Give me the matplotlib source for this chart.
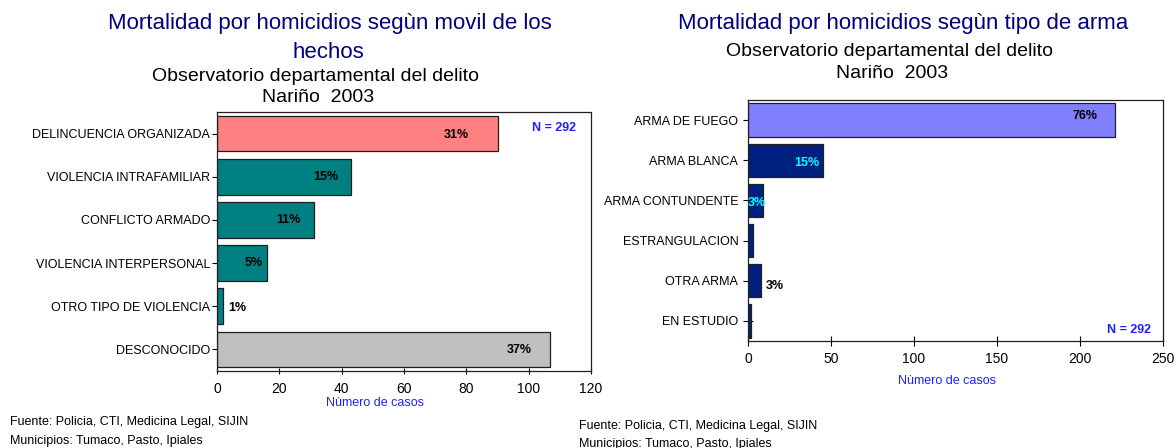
import matplotlib
matplotlib.use("Agg")
import matplotlib.pyplot as plt

plt.rcParams["font.family"] = ["Liberation Sans", "DejaVu Sans"]

W, H = 1176, 448  # output size in pixels (dpi 100)

# ---------------------------------------------------------------------------
# Data
# ---------------------------------------------------------------------------
motive_labels = ["DELINCUENCIA ORGANIZADA", "VIOLENCIA INTRAFAMILIAR",
                 "CONFLICTO ARMADO", "VIOLENCIA INTERPERSONAL",
                 "OTRO TIPO DE VIOLENCIA", "DESCONOCIDO"]
motive_cases = [90, 43, 31, 16, 2, 107]
motive_pct = ["31%", "15%", "11%", "5%", "1%", "37%"]

weapon_labels = ["ARMA DE FUEGO", "ARMA BLANCA", "ARMA CONTUNDENTE",
                 "ESTRANGULACION", "OTRA ARMA", "EN ESTUDIO"]
weapon_cases = [221, 45, 9, 3, 8, 2]
weapon_pct = ["76%", "15%", "3%", "", "3%", ""]

n_total = 292

# styles
motive_colors = ["#FF8080", "#008080", "#008080", "#008080", "#008080", "#C0C0C0"]
weapon_colors = ["#8080FF", "#00207F", "#00207F", "#00207F", "#00207F", "#00207F"]
motive_lbl_colors = ["black"] * 6
weapon_lbl_colors = ["black", "#00FFFF", "#00FFFF", "black", "black", "black"]
# offset of each percentage label from the bar end, in pixels (dy: down)
motive_lbl_dx = [-41, -25, -25, -13, 14, -31]
motive_lbl_dy = [1, 0, 0, 0, 2, 1]
weapon_lbl_dx = [-30, -16, -6, 0, 14, 0]
weapon_lbl_dy = [-4, 3, 3, 0, 5, 0]

TITLE_COLOR = "#000080"
BLUE = "#2020FF"


def px(x):
    return x / W


def py(y):
    return 1 - y / H


def bar_panel(ax, labels, cases, colors, pct, lbl_colors, lbl_dx, lbl_dy,
              xmax, step, ylab_pad, xtick_len, xtick_pad):
    pos = list(range(len(labels)))
    ax.barh(pos, cases, height=0.83, color=colors, edgecolor="#202020",
            linewidth=0.9, zorder=2)
    ax.set_ylim(len(labels) - 0.5, -0.5)
    ax.set_xlim(0, xmax)
    ax.set_xticks(range(0, xmax + 1, step))
    ax.set_yticks(pos)
    ax.set_yticklabels(labels, fontsize=9)
    ax.tick_params(axis="y", direction="inout", length=7, width=0.8,
                   pad=ylab_pad)
    ax.tick_params(axis="x", direction="inout", length=xtick_len, width=0.8,
                   labelsize=10, pad=xtick_pad)
    for sp in ax.spines.values():
        sp.set_linewidth(0.9)
        sp.set_color("#202020")
    for i, (v, t) in enumerate(zip(cases, pct)):
        if not t:
            continue
        ax.annotate(t, (v, i), xytext=(lbl_dx[i] * 0.72, -lbl_dy[i] * 0.72),
                    textcoords="offset points", ha="center", va="center",
                    fontsize=9, fontweight="bold", color=lbl_colors[i],
                    zorder=3)


fig = plt.figure(figsize=(W / 100, H / 100), dpi=100)
fig.patch.set_facecolor("white")

# left chart
ax1 = fig.add_axes([px(217), py(371), 374 / W, 259 / H])
bar_panel(ax1, motive_labels, motive_cases, motive_colors, motive_pct,
          motive_lbl_colors, motive_lbl_dx, motive_lbl_dy,
          120, 20, 1.5, 4, 6)
ax1.text(0.96, 0.94, f"N = {n_total}", transform=ax1.transAxes,
         ha="right", va="center", fontsize=9, fontweight="bold", color=BLUE)

# right chart
ax2 = fig.add_axes([px(748), py(341), 415 / W, 241 / H])
bar_panel(ax2, weapon_labels, weapon_cases, weapon_colors, weapon_pct,
          weapon_lbl_colors, weapon_lbl_dx, weapon_lbl_dy,
          250, 50, 3.5, 7, 4.5)
ax2.text(0.97, 0.047, f"N = {n_total}", transform=ax2.transAxes,
         ha="right", va="center", fontsize=9, fontweight="bold", color=BLUE)

# titles
fig.text(px(330), py(23), "Mortalidad por homicidios segùn movil de los",
         ha="center", va="center", fontsize=16, color=TITLE_COLOR)
fig.text(px(328), py(52), "hechos", ha="center", va="center",
         fontsize=16, color=TITLE_COLOR)
fig.text(px(315), py(76), "Observatorio departamental del delito",
         ha="center", va="center", fontsize=14)
fig.text(px(318), py(98), "Nariño  2003", ha="center", va="center",
         fontsize=14)

fig.text(px(903), py(23), "Mortalidad por homicidios segùn tipo de arma",
         ha="center", va="center", fontsize=16, color=TITLE_COLOR)
fig.text(px(889), py(52), "Observatorio departamental del delito",
         ha="center", va="center", fontsize=14)
fig.text(px(892), py(74), "Nariño  2003", ha="center", va="center",
         fontsize=14)

# axis labels
fig.text(px(375), py(403), "Nùmero de casos", ha="center", va="center",
         fontsize=9, color=BLUE)
fig.text(px(947), py(381), "Nùmero de casos", ha="center", va="center",
         fontsize=9, color=BLUE)

# sources
src1 = "Fuente: Policia, CTI, Medicina Legal, SIJIN"
src2 = "Municipios: Tumaco, Pasto, Ipiales"
fig.text(px(10), py(422), src1, ha="left", va="center", fontsize=9)
fig.text(px(10), py(441), src2, ha="left", va="center", fontsize=9)
fig.text(px(579), py(426), src1, ha="left", va="center", fontsize=9)
fig.text(px(579), py(444), src2, ha="left", va="center", fontsize=9)

fig.savefig("out.png", dpi=100)
